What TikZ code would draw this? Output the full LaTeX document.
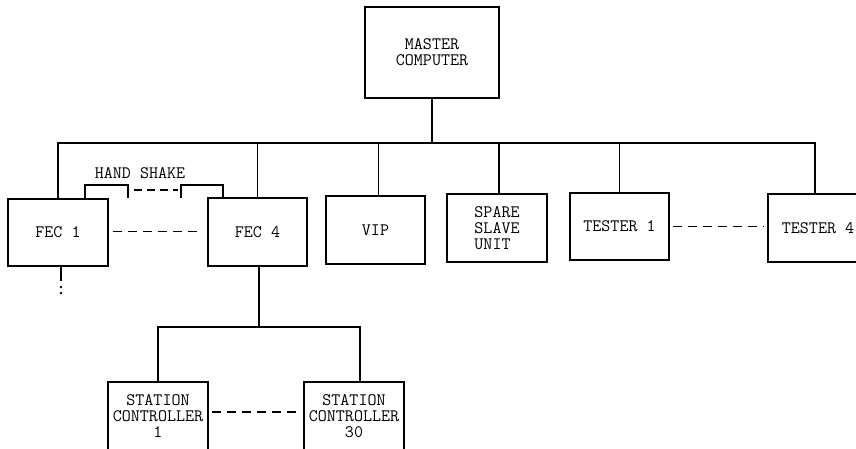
\documentclass[tikz,border=0pt]{standalone}
\begin{document}
\begin{tikzpicture}[x=1pt,y=-1pt,
  txt/.style={font=\ttfamily\fontsize{17.5}{16}\selectfont},
  box/.style={draw,line width=1.3pt,inner sep=0pt,align=center,txt},
  ln/.style={line width=1.3pt},
  dsh/.style={line width=1.3pt,dash pattern=on 9pt off 6pt}]
\useasboundingbox (0,0) rectangle (856,448);
\clip (0,0) rectangle (856,448);
\fill[white] (0,0) rectangle (856,448);
% boxes
\node[box,minimum width=134pt,minimum height=91pt] (m) at (432,52.5) {MASTER\\COMPUTER};
\node[box,minimum width=100pt,minimum height=67pt] (fec1) at (58,232.5) {FEC 1};
\node[box,minimum width=99pt,minimum height=68pt] (fec4) at (257.5,232) {FEC 4};
\node[box,minimum width=99pt,minimum height=68pt] (vip) at (375.5,230) {VIP};
\node[box,minimum width=100pt,minimum height=68pt,align=left] (spare) at (497,228) {SPARE\\SLAVE\\UNIT};
\node[box,minimum width=99pt,minimum height=67pt] (t1) at (619.5,226.5) {TESTER 1};
\node[box,minimum width=100pt,minimum height=68pt] (t4) at (818,228) {TESTER 4};
\node[box,minimum width=100pt,minimum height=68pt] (sc1) at (158,416) {STATION\\CONTROLLER\\1};
\node[box,minimum width=100pt,minimum height=68pt] (sc30) at (354,416) {STATION\\CONTROLLER\\30};
% bus
\coordinate (bus) at (0,143);
\coordinate (t4top) at (815,194);
\draw[ln] (fec1.north) |- (t4top |- bus) -- (t4top);
\draw[ln] (m.south) -- (m.south |- bus);
\draw[ln] (fec4.north) -- (fec4.north |- bus);
\draw[ln] ([xshift=3pt]vip.north) -- ([xshift=3pt]vip.north |- bus);
\draw[ln] ([xshift=2pt]spare.north) -- ([xshift=2pt]spare.north |- bus);
\draw[ln] (t1.north) -- (t1.north |- bus);
% below FEC 1
\coordinate (f1end) at (61,281);
\draw[ln] (f1end |- fec1.south) -- (f1end);
\fill (61,287) circle (1.3pt);
\fill (61,293) circle (1.3pt);
% below FEC 4
\coordinate (br) at (0,327);
\coordinate (sc30top) at (360,382);
\draw[ln] ([xshift=1.5pt]fec4.south) -- ([xshift=1.5pt]fec4.south |- br);
\draw[ln] (sc1.north) |- (sc30top |- br) -- (sc30top);
% dashed links
\draw[dsh] ([xshift=4pt,yshift=1pt]fec1.east) -- ([xshift=-8pt,yshift=1pt]fec1.east -| fec4.west);
\draw[dsh] ([xshift=3pt]t1.east) -- ([xshift=-3pt]t1.east -| t4.west);
\draw[dsh] ([xshift=3pt,yshift=4pt]sc1.east) -- ([xshift=-3pt,yshift=4pt]sc1.east -| sc30.west);
% hand shake
\coordinate (ha) at (85,185);
\coordinate (hb) at (128,185);
\coordinate (hbe) at (128,198);
\coordinate (hc) at (181,185);
\coordinate (hce) at (181,198);
\coordinate (hd) at (223,185);
\draw[ln] (ha |- fec1.north) -- (ha) -- (hb) -- (hbe);
\draw[ln] (hce) -- (hc) -- (hd) -- (hd |- fec4.north);
\coordinate (hda) at (134,190);
\coordinate (hdb) at (178,190);
\draw[dsh,dash pattern=on 8pt off 5pt] (hda) -- (hdb);
\node[txt,inner sep=0pt] (hs) at (140,173) {HAND SHAKE};
\end{tikzpicture}
\end{document}
